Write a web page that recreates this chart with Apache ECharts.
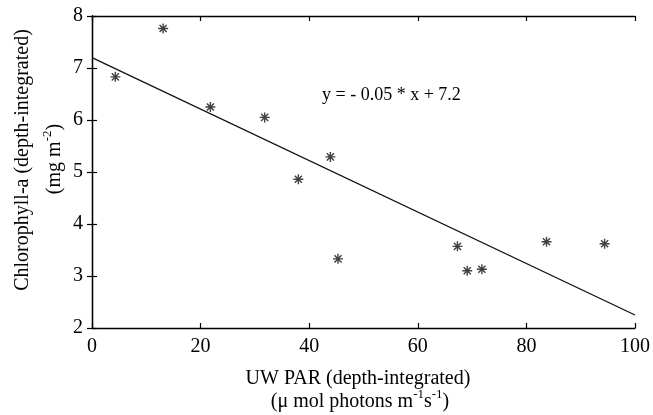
<!DOCTYPE html>
<html>
<head>
<meta charset="utf-8">
<script src="https://cdn.jsdelivr.net/npm/echarts@6/dist/echarts.min.js"></script>
<style>
  html, body { margin: 0; padding: 0; background: #fff; }
  #chart { width: 653px; height: 415px; }
</style>
</head>
<body>
<div id="chart"></div>
<script>
// measured points: UW PAR vs depth-integrated chlorophyll-a
const parX = [4.3, 13.1, 21.8, 31.8, 38.0, 43.9, 45.3, 67.3, 69.1, 71.8, 83.7, 94.4];
const chlY = [6.83, 7.76, 6.25, 6.05, 4.86, 5.29, 3.33, 3.57, 3.10, 3.13, 3.66, 3.62];

// regression line end points (as drawn)
const fitX = [0, 100];
const fitY = [7.2, 2.25];

const xTicks = [0, 20, 40, 60, 80, 100];
const yTicks = [2, 3, 4, 5, 6, 7, 8];

const font = 'Liberation Serif';
// 8-armed asterisk marker
const starPath = 'path://M-1.4,-10L1.4,-10L1.4,10L-1.4,10Z M-10,-1.4L10,-1.4L10,1.4L-10,1.4Z ' +
  'M-6.1,-8.1L8.1,6.1L6.1,8.1L-8.1,-6.1Z M6.1,-8.1L8.1,-6.1L-6.1,8.1L-8.1,6.1Z';

const chart = echarts.init(document.getElementById('chart'));

const axisCommon = {
  type: 'value',
  axisLine: { show: true, lineStyle: { color: '#000', width: 1.3 } },
  axisTick: { show: true, inside: true, length: 5, lineStyle: { color: '#000', width: 1.2 } },
  splitLine: { show: false }
};

const supRich = {
  n: { fontFamily: font, fontSize: 20, color: '#000', lineHeight: 24, verticalAlign: 'bottom' },
  s: { fontFamily: font, fontSize: 13, color: '#000', lineHeight: 24, verticalAlign: 'top' }
};

chart.setOption({
  animation: false,
  backgroundColor: '#fff',
  grid: { left: 92, right: 12, top: 16, bottom: 87 },
  xAxis: [
    Object.assign({}, axisCommon, {
      min: xTicks[0], max: xTicks[xTicks.length - 1], interval: 20,
      position: 'bottom',
      axisLabel: { fontFamily: font, fontSize: 20, color: '#000', margin: 9 }
    }),
    Object.assign({}, axisCommon, {
      min: xTicks[0], max: xTicks[xTicks.length - 1], interval: 20,
      position: 'top',
      axisLabel: { show: false }
    })
  ],
  yAxis: [
    Object.assign({}, axisCommon, {
      min: yTicks[0], max: yTicks[yTicks.length - 1], interval: 1,
      position: 'left',
      axisLabel: { fontFamily: font, fontSize: 20, color: '#000', margin: 9, padding: [4, 0, 0, 0] }
    }),
    Object.assign({}, axisCommon, {
      min: yTicks[0], max: yTicks[yTicks.length - 1], interval: 1,
      position: 'right',
      axisLabel: { show: false }
    })
  ],
  series: [
    {
      name: 'fit',
      type: 'line',
      data: fitX.map((x, i) => [x, fitY[i]]),
      symbol: 'none',
      lineStyle: { color: '#111', width: 1.3 },
      z: 2
    },
    {
      name: 'obs',
      type: 'scatter',
      data: parX.map((x, i) => [x, chlY[i]]),
      symbol: starPath,
      symbolSize: 10,
      itemStyle: { color: '#111' },
      z: 3
    }
  ],
  graphic: [
    {
      type: 'text', x: 322, y: 95,
      style: { text: 'y = - 0.05 * x + 7.2', font: '18px "' + font + '"', fill: '#000',
        align: 'left', verticalAlign: 'middle' }
    },
    {
      type: 'text', x: 358, y: 379,
      style: { text: 'UW PAR (depth-integrated)', font: '20px "' + font + '"', fill: '#000',
        align: 'center', verticalAlign: 'middle' }
    },
    {
      type: 'text', x: 360, y: 400,
      style: { text: '{n|(\u03bc mol photons m}{s|-1}{n|s}{s|-1}{n|)}', rich: supRich,
        align: 'center', verticalAlign: 'middle' }
    },
    {
      type: 'text', x: 23, y: 160, rotation: Math.PI / 2,
      style: { text: 'Chlorophyll-a (depth-integrated)', font: '20px "' + font + '"', fill: '#000',
        align: 'center', verticalAlign: 'middle' }
    },
    {
      type: 'text', x: 53, y: 159, rotation: Math.PI / 2,
      style: { text: '{n|(mg m}{s|-2}{n|)}', rich: supRich,
        align: 'center', verticalAlign: 'middle' }
    }
  ]
});
</script>
</body>
</html>
